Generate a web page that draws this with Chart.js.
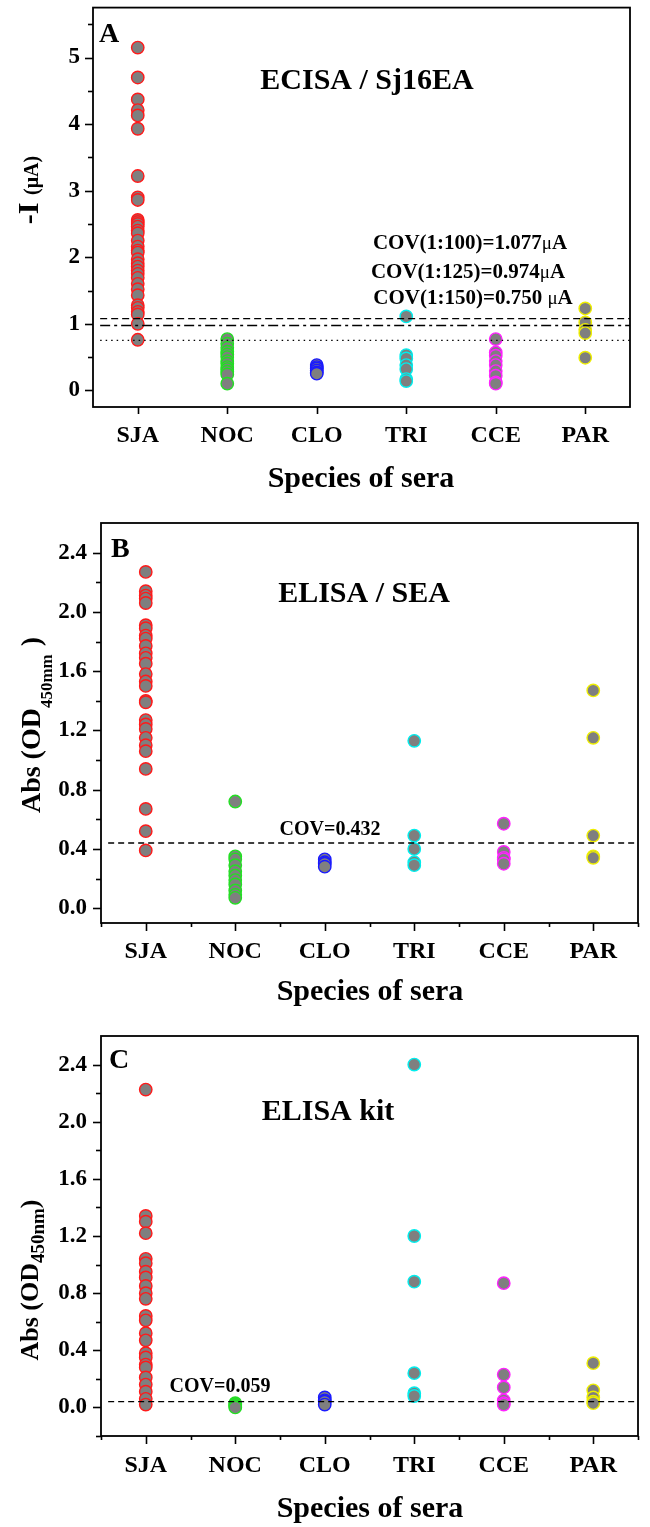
<!DOCTYPE html>
<html>
<head>
<meta charset="utf-8">
<script src="https://cdn.jsdelivr.net/npm/chart.js@4.4.1/dist/chart.umd.min.js"></script>
<style>
  html, body { margin: 0; padding: 0; background: #fff; }
  #wrap { position: relative; width: 650px; height: 1527px; }
  canvas { position: absolute; left: 0; }
</style>
</head>
<body>
<div id="wrap">
  <canvas id="cA" width="650" height="500" style="top:0px"></canvas>
  <canvas id="cB" width="650" height="510" style="top:500px"></canvas>
  <canvas id="cC" width="650" height="517" style="top:1010px"></canvas>
</div>
<script>
// ---------------- DATA ----------------
const categories = ['SJA', 'NOC', 'CLO', 'TRI', 'CCE', 'PAR'];

// Panel A: ECISA / Sj16EA  (-I, uA)
const ecisaSJA = [5.15, 4.70, 4.37, 4.21, 4.13, 3.93, 3.22, 2.90, 2.86, 2.56, 2.53, 2.50, 2.46, 2.40, 2.36, 2.25, 2.16, 2.10, 2.07, 1.97, 1.91, 1.86, 1.80, 1.75, 1.69, 1.60, 1.52, 1.43, 1.28, 1.24, 1.18, 1.14, 1.00, 0.76];
const ecisaNOC = [0.77, 0.70, 0.64, 0.58, 0.54, 0.50, 0.44, 0.40, 0.35, 0.32, 0.28, 0.24, 0.10];
const ecisaCLO = [0.38, 0.35, 0.33, 0.30, 0.27, 0.25];
const ecisaTRI = [1.11, 0.53, 0.48, 0.38, 0.32, 0.17, 0.14];
const ecisaCCE = [0.77, 0.57, 0.52, 0.44, 0.38, 0.29, 0.22, 0.12, 0.10];
const ecisaPAR = [1.23, 1.02, 0.91, 0.86, 0.49];
const covA = [1.077, 0.974, 0.750];
const yTicksA = [0, 1, 2, 3, 4, 5];

// Panel B: ELISA / SEA  (Abs OD450)
const elisaSJA = [2.27, 2.14, 2.11, 2.09, 2.06, 1.91, 1.89, 1.84, 1.82, 1.77, 1.72, 1.69, 1.65, 1.58, 1.53, 1.50, 1.40, 1.39, 1.27, 1.24, 1.21, 1.15, 1.10, 1.06, 0.94, 0.67, 0.52, 0.39];
const elisaNOC = [0.72, 0.35, 0.33, 0.29, 0.25, 0.22, 0.19, 0.16, 0.12, 0.09, 0.07];
const elisaCLO = [0.33, 0.31, 0.30, 0.28];
const elisaTRI = [1.13, 0.49, 0.40, 0.31, 0.29];
const elisaCCE = [0.57, 0.38, 0.34, 0.33, 0.30];
const elisaPAR = [1.47, 1.15, 0.49, 0.35, 0.34];
const covB = 0.44;
const yTicksB = [0.0, 0.4, 0.8, 1.2, 1.6, 2.0, 2.4];

// Panel C: ELISA kit  (Abs OD450)
const kitSJA = [2.225, 1.34, 1.30, 1.22, 1.04, 1.01, 0.95, 0.91, 0.85, 0.80, 0.76, 0.64, 0.61, 0.52, 0.47, 0.38, 0.35, 0.30, 0.28, 0.21, 0.16, 0.11, 0.06, 0.02];
const kitNOC = [0.03, 0.02, 0.01, 0.00];
const kitCLO = [0.07, 0.05, 0.04, 0.02];
const kitTRI = [2.40, 1.20, 0.88, 0.24, 0.10, 0.08];
const kitCCE = [0.87, 0.23, 0.14, 0.05, 0.03, 0.02];
const kitPAR = [0.31, 0.12, 0.07, 0.04, 0.03];
const covC = 0.04;
const yTicksC = [0.0, 0.4, 0.8, 1.2, 1.6, 2.0, 2.4];

// ---------------- STYLE ----------------
const FONT = '"Liberation Serif", "Times New Roman", serif';
const edgeColors = ['#ff1a1a', '#22e022', '#1a1aff', '#00eeee', '#ff22ff', '#eeee00'];
const FILL = '#7f7f7f';

function pointSets(groups) {
  return groups.map((vals, i) => ({
    type: 'scatter',
    data: vals.map(v => ({ x: i, y: v })),
    backgroundColor: FILL,
    borderColor: edgeColors[i],
    borderWidth: 1.4,
    pointRadius: 6.2,
    pointHoverRadius: 6.2,
    order: 1
  }));
}
function hLine(v, dash) {
  return {
    type: 'line',
    data: [{ x: -0.42, y: v }, { x: 5.5, y: v }],
    borderColor: '#000',
    borderWidth: 1.3,
    borderDash: dash,
    pointRadius: 0,
    fill: false,
    order: 0
  };
}

function font(size, bold) { return (bold ? 'bold ' : '') + size + 'px ' + FONT; }

function drawRich(ctx, parts, x, y, align, rot) {
  ctx.save();
  ctx.translate(x, y);
  if (rot) ctx.rotate(-Math.PI / 2);
  ctx.textBaseline = 'alphabetic';
  ctx.textAlign = 'left';
  let total = 0;
  parts.forEach(p => { ctx.font = font(p.size, p.bold !== false); p.w = ctx.measureText(p.t).width; total += p.w + (p.gap || 0); });
  let cx = align === 'left' ? 0 : -total / 2;
  parts.forEach(p => {
    ctx.font = font(p.size, p.bold !== false);
    ctx.fillStyle = '#000';
    ctx.fillText(p.t, cx, (p.dy || 0));
    cx += p.w + (p.gap || 0);
  });
  ctx.restore();
}

const decoPlugin = {
  id: 'deco',
  afterDraw(chart, args, opts) {
    const ctx = chart.ctx;
    const a = chart.chartArea;
    const ys = chart.scales.y, xs = chart.scales.x;
    ctx.save();
    ctx.strokeStyle = '#000';
    ctx.lineWidth = 1.6;
    opts.yMajor.forEach(v => {
      const py = Math.round(ys.getPixelForValue(v)) + 0.5;
      ctx.beginPath(); ctx.moveTo(a.left - 8, py); ctx.lineTo(a.left, py); ctx.stroke();
    });
    opts.yMinor.forEach(v => {
      const py = Math.round(ys.getPixelForValue(v)) + 0.5;
      ctx.beginPath(); ctx.moveTo(a.left - 5, py); ctx.lineTo(a.left, py); ctx.stroke();
    });
    categories.forEach((c, i) => {
      const px = Math.round(xs.getPixelForValue(i)) + 0.5;
      ctx.beginPath(); ctx.moveTo(px, a.bottom); ctx.lineTo(px, a.bottom + opts.xMajorLen); ctx.stroke();
    });
    if (opts.xMinor) {
      for (let i = -0.5; i <= 5.5; i += 1) {
        const px = Math.round(xs.getPixelForValue(i)) + 0.5;
        ctx.beginPath(); ctx.moveTo(px, a.bottom); ctx.lineTo(px, a.bottom + 4); ctx.stroke();
      }
    }
    ctx.lineWidth = 1.8;
    ctx.strokeRect(a.left, a.top, a.right - a.left, a.bottom - a.top);
    ctx.restore();
    opts.texts.forEach(t => drawRich(ctx, t.parts, t.x, t.y, t.align, t.rot));
  }
};

function zeroPad(s) { s.paddingTop = 0; s.paddingBottom = 0; s.paddingLeft = 0; s.paddingRight = 0; }

function makeChart(id, groups, lines, cfg) {
  const canvas = document.getElementById(id);
  const H = canvas.height;
  return new Chart(canvas, {
    data: { datasets: [...lines, ...pointSets(groups)] },
    options: {
      responsive: false,
      animation: false,
      devicePixelRatio: 1,
      layout: { padding: { top: cfg.top, right: 650 - cfg.right, left: 0, bottom: 0 } },
      plugins: { legend: { display: false }, tooltip: { enabled: false }, deco: cfg.deco },
      scales: {
        x: {
          type: 'linear', min: -0.5, max: 5.5,
          grid: { display: false }, border: { display: false },
          afterBuildTicks: s => { s.ticks = categories.map((c, i) => ({ value: i })); },
          afterFit: s => { s.height = H - cfg.bottom; zeroPad(s); },
          ticks: {
            color: '#000', padding: cfg.xPad, maxRotation: 0, autoSkip: false,
            font: { family: FONT, weight: 'bold', size: 24 },
            callback: v => categories[v]
          }
        },
        y: {
          type: 'linear', min: cfg.ymin, max: cfg.ymax,
          grid: { display: false }, border: { display: false },
          afterBuildTicks: s => { s.ticks = cfg.yTicks.map(v => ({ value: v })); },
          afterFit: s => { s.width = cfg.left; zeroPad(s); },
          ticks: {
            color: '#000', padding: cfg.yPad,
            font: { family: FONT, weight: 'bold', size: 23 },
            callback: v => cfg.yFmt(v)
          }
        }
      }
    },
    plugins: [decoPlugin]
  });
}

function range(a, b, s) { const r = []; for (let v = a; v <= b + 1e-9; v += s) r.push(Math.round(v * 100) / 100); return r; }

// Panel A
makeChart('cA', [ecisaSJA, ecisaNOC, ecisaCLO, ecisaTRI, ecisaCCE, ecisaPAR],
  [hLine(covA[0], [7, 4]), hLine(covA[1], [10, 4, 3, 4]), hLine(covA[2], [1.5, 4])],
  {
    top: 7, bottom: 407, left: 93, right: 630, ymin: -0.25, ymax: 5.75,
    yTicks: yTicksA, yFmt: v => String(v), xPad: 6, yPad: 5,
    deco: {
      yMajor: yTicksA, yMinor: range(0.5, 5.5, 1), xMajorLen: 7, xMinor: false,
      texts: [
        { parts: [{ t: 'A', size: 28 }], x: 99, y: 42, align: 'left' },
        { parts: [{ t: 'ECISA / Sj16EA', size: 30 }], x: 367, y: 89 },
        { parts: [{ t: 'COV(1:100)=1.077', size: 21 }, { t: 'μ', size: 19, bold: false }, { t: 'A', size: 21 }], x: 470, y: 249 },
        { parts: [{ t: 'COV(1:125)=0.974', size: 21 }, { t: 'μ', size: 19, bold: false }, { t: 'A', size: 21 }], x: 468, y: 278 },
        { parts: [{ t: 'COV(1:150)=0.750 ', size: 21 }, { t: 'μ', size: 19, bold: false }, { t: 'A', size: 21 }], x: 473, y: 304 },
        { parts: [{ t: 'Species of sera', size: 30 }], x: 361, y: 487 },
        { parts: [{ t: '-I ', size: 30 }, { t: '(μA)', size: 20 }], x: 38, y: 190, rot: true }
      ]
    }
  });

// Panel B
makeChart('cB', [elisaSJA, elisaNOC, elisaCLO, elisaTRI, elisaCCE, elisaPAR],
  [hLine(covB, [6, 4])],
  {
    top: 23, bottom: 423, left: 101, right: 638, ymin: -0.1, ymax: 2.6,
    yTicks: yTicksB, yFmt: v => v.toFixed(1), xPad: 6, yPad: 6,
    deco: {
      yMajor: yTicksB, yMinor: range(0.2, 2.2, 0.4), xMajorLen: 8, xMinor: true,
      texts: [
        { parts: [{ t: 'B', size: 28 }], x: 111, y: 57, align: 'left' },
        { parts: [{ t: 'ELISA / SEA', size: 30 }], x: 364, y: 102 },
        { parts: [{ t: 'COV=0.432', size: 20 }], x: 330, y: 335 },
        { parts: [{ t: 'Species of sera', size: 30 }], x: 370, y: 500 },
        { parts: [{ t: 'Abs (OD', size: 28 }, { t: '450mm', size: 17, dy: 12, gap: 8 }, { t: ')', size: 28 }], x: 40, y: 225, rot: true }
      ]
    }
  });

// Panel C
makeChart('cC', [kitSJA, kitNOC, kitCLO, kitTRI, kitCCE, kitPAR],
  [hLine(covC, [6, 4])],
  {
    top: 26, bottom: 426, left: 101, right: 638, ymin: -0.2, ymax: 2.6,
    yTicks: yTicksC, yFmt: v => v.toFixed(1), xPad: 7, yPad: 6,
    deco: {
      yMajor: yTicksC, yMinor: range(-0.2, 2.2, 0.4), xMajorLen: 8, xMinor: true,
      texts: [
        { parts: [{ t: 'C', size: 28 }], x: 109, y: 58, align: 'left' },
        { parts: [{ t: 'ELISA kit', size: 30 }], x: 328, y: 110 },
        { parts: [{ t: 'COV=0.059', size: 20 }], x: 220, y: 382 },
        { parts: [{ t: 'Species of sera', size: 30 }], x: 370, y: 507 },
        { parts: [{ t: 'Abs (OD', size: 26 }, { t: '450nm', size: 19, dy: 6 }, { t: ')', size: 26 }], x: 38, y: 270, rot: true }
      ]
    }
  });
</script>
</body>
</html>
